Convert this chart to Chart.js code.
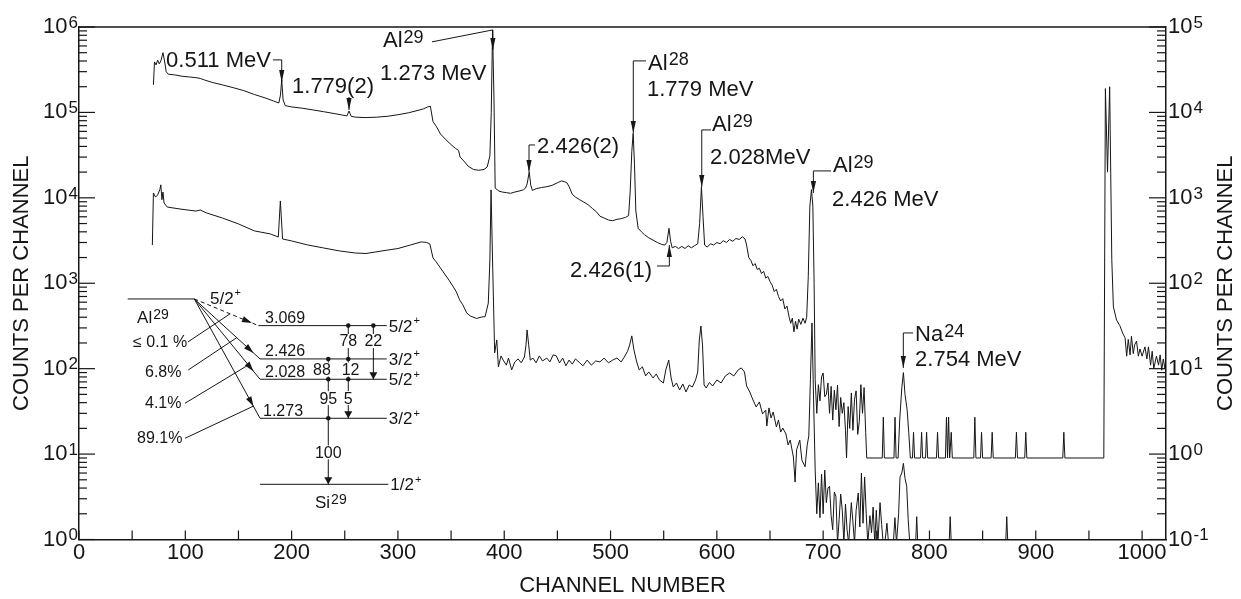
<!DOCTYPE html>
<html>
<head>
<meta charset="utf-8">
<script src="https://cdn.jsdelivr.net/npm/chart.js@4.4.1/dist/chart.umd.min.js"></script>
<style>
  body { margin: 0; background: #fff; }
</style>
</head>
<body>
<canvas id="spectrum" width="1241" height="599"></canvas>
<script>
const ink = '#161616';
const chartFont = "'Liberation Sans', Arial, Helvetica, sans-serif";

// upper spectrum, read on the right-hand axis: [channel, counts]
const upperTrace = [
  [70, 2.1e4], [71, 3.9e4], [72.5, 3.6e4], [74, 4.1e4], [75.5, 3.7e4], [77, 4.0e4], [79, 5.0e4], [80.5, 4.0e4],
  [82, 3.0e4], [84, 2.8e4], [90, 2.75e4], [97, 2.65e4], [104, 2.6e4], [110, 2.55e4], [114, 2.5e4], [118, 2.4e4],
  [125, 2.25e4], [135, 2.1e4], [145, 1.95e4], [155, 1.8e4], [165, 1.62e4], [175, 1.48e4], [183, 1.36e4], [188, 1.29e4],
  [189.5, 1.6e4], [190.7, 2.4e4], [192, 1.4e4], [194, 1.2e4], [200, 1.16e4], [210, 1.12e4], [220, 1.07e4], [230, 1.02e4],
  [240, 9.7e3], [248, 9.3e3], [252, 9.1e3], [254, 1.04e4], [256, 9.0e3], [260, 8.8e3], [270, 8.7e3], [280, 8.8e3],
  [290, 9.0e3], [300, 9.4e3], [310, 9.9e3], [318, 1.05e4], [324, 1.1e4], [328, 1.16e4], [330.5, 1.18e4], [333, 7.8e3],
  [336, 6.9e3], [340, 5.6e3], [345, 4.8e3], [350, 4.2e3], [354, 3.8e3], [357, 3.6e3], [358.5, 3.0e3], [362, 2.7e3],
  [366, 2.35e3], [371, 2.15e3], [376, 2.1e3], [381, 2.15e3], [384, 2.3e3], [386.5, 3.1e3], [387.8, 1.0e4], [389, 9.2e4],
  [390.3, 1.6e4], [391.5, 1.3e3], [395, 1.2e3], [398, 1.17e3], [402, 1.15e3], [406, 1.13e3], [410, 1.17e3], [414, 1.2e3],
  [418, 1.24e3], [420, 1.3e3], [421.5, 1.45e3], [423.5, 2.0e3], [425, 1.4e3], [426.5, 1.22e3], [430, 1.28e3], [435, 1.32e3],
  [440, 1.35e3], [445, 1.4e3], [450, 1.5e3], [454, 1.58e3], [457, 1.54e3], [459, 1.5e3], [461, 1.35e3], [464, 1.1e3],
  [467, 1.02e3], [471, 950], [475, 890], [479, 830], [483, 750], [487, 680], [490, 610], [494, 580],
  [498, 550], [502, 540], [506, 560], [510, 570], [514, 590], [517, 620], [518.5, 1.2e3], [520, 3.5e3],
  [521.3, 5.7e3], [522.5, 2.5e3], [523.8, 700], [526, 440], [529, 400], [532, 370], [536, 340], [540, 320],
  [544, 300], [548, 285], [551, 280], [553, 300], [555, 440], [556.5, 310], [558, 260], [561, 270],
  [564, 255], [567, 270], [570, 255], [573, 275], [576, 260], [579, 275], [582, 290], [583.8, 500],
  [585.5, 1.35e3], [587, 600], [588.5, 280], [591, 265], [594, 290], [597, 280], [600, 300], [603, 290],
  [606, 315], [609, 300], [612, 325], [615, 310], [618, 335], [621, 325], [624, 350], [626.5, 330],
  [628, 280], [630, 200], [632, 185], [634, 160], [636, 170], [638, 145], [640, 150], [642, 130],
  [644, 138], [646, 115], [648, 120], [650, 105], [652, 95], [654, 80], [656, 85], [658, 70],
  [660, 62], [662, 66], [664, 50], [666, 54], [668, 40], [669.5, 34], [671, 39], [672.5, 27],
  [674, 36], [675.5, 29], [677, 38], [679, 33], [681, 39], [683, 34], [684.5, 40], [686, 120],
  [687.5, 800], [689, 1.25e3], [690.3, 800], [691.5, 100], [692.5, 7.4], [694, 3.0], [695.5, 6.5], [697, 4.2],
  [698.5, 8.0], [700, 8.9], [701.5, 4.7], [703, 5.0], [704.5, 6.8], [706, 3.0], [707.5, 6.2], [709, 2.5],
  [710.5, 5.6], [712, 3.3], [713.5, 6.4], [715, 2.1], [716.5, 4.6], [718, 3.0], [719.5, 4.0], [721, 1.9],
  [722, 0.9], [723.5, 3.6], [725, 2.0], [726.5, 5.2], [728, 1.9], [729.5, 4.4], [731, 5.5], [732.5, 1.7],
  [734, 2.4], [735.5, 6.5], [737, 3.0], [738.5, 6.0], [740, 1.8], [741, 0.9],
  [755.6, 0.9], [756.6, 2.7], [757.6, 0.9], [766.6, 0.9], [767.6, 2.7], [768.6, 0.9],
  [770.5, 0.9], [772, 2.5], [774, 6.0], [775.5, 9.0], [777, 5.0], [779, 3.3], [780.5, 1.8], [782, 0.9],
  [784, 0.9], [785, 1.8], [786, 0.9], [791.6, 0.9], [792.6, 1.8], [793.6, 0.9], [796.3, 0.9], [797.3, 1.8],
  [798.3, 0.9], [806.6, 0.9], [807.6, 1.8], [808.6, 0.9], [815, 0.9], [816, 2.7], [817, 0.9], [818, 2.7],
  [819, 0.9], [820.5, 1.8], [821.5, 0.9], [841.7, 0.9], [842.7, 2.7], [843.7, 0.9], [848, 0.9], [849, 1.8],
  [850, 0.9], [858, 0.9], [859, 1.8], [860, 0.9], [880.8, 0.9], [881.8, 1.8], [882.8, 0.9], [889.6, 0.9],
  [890.6, 1.8], [891.6, 0.9], [925.4, 0.9], [926.4, 1.8], [927.4, 0.9],
  [964, 0.9], [965.5, 1.9e4], [967.5, 2.0e3], [969.5, 2.0e4], [971.5, 190], [973, 53], [976, 37], [979, 32],
  [981.8, 26], [984, 23], [985.5, 14], [987, 22], [988.7, 14.5], [990, 24], [991.7, 15], [993, 19],
  [994.8, 21], [996.5, 14], [998, 17], [1000, 14], [1002.7, 18], [1004.5, 13], [1006, 18], [1008, 11],
  [1009.5, 16], [1011, 10], [1013.5, 14], [1015.5, 11], [1017, 14.5], [1018.5, 9.6], [1020, 13], [1021.5, 10],
  [1022.5, 12]
];

// lower spectrum, read on the left-hand axis: [channel, counts]
const lowerTrace = [
  [69, 2.8e3], [70, 1.14e4], [72, 1.02e4], [74, 1.08e4], [76, 1.24e4], [77, 1.42e4], [78, 9.5e3], [79, 1.17e4],
  [80, 8.7e3], [83, 7.8e3], [95, 7.4e3], [110, 7.0e3], [114, 7.2e3], [120, 6.65e3], [135, 5.8e3], [150, 4.95e3],
  [165, 4.1e3], [180, 3.78e3], [187.5, 3.48e3], [189.4, 9.2e3], [191.5, 3.3e3], [200, 3.13e3], [215, 2.81e3], [230, 2.59e3],
  [245, 2.39e3], [260, 2.26e3], [270, 2.23e3], [285, 2.39e3], [300, 2.55e3], [312, 2.81e3], [322, 3.05e3], [327, 3.0e3],
  [330, 2.89e3], [333, 1.98e3], [336, 1.78e3], [340, 1.51e3], [344, 1.28e3], [348, 1.09e3], [352, 910], [355, 790],
  [358, 640], [361, 560], [364.7, 450], [368, 414], [374, 387], [379, 403], [382, 406], [385, 585],
  [386.5, 1.87e3], [387.6, 1.24e4], [389, 1.87e3], [391, 153], [393, 217], [394.5, 105], [397, 141], [399, 126],
  [402, 110], [404, 133], [407, 96.6], [410, 120], [413, 130], [416, 117], [419, 137], [420.5, 190],
  [421.5, 284], [423, 190], [424.5, 126], [427, 133], [430, 117], [433, 141], [436, 123], [440, 133],
  [443, 120], [446, 145], [449, 141], [452, 117], [455, 133], [458, 108], [461, 126], [464, 113],
  [467, 130], [471, 117], [474, 108], [478, 126], [482, 110], [486, 123], [490, 120], [494, 133],
  [498, 117], [502, 126], [506, 133], [510, 120], [513, 137], [516, 160], [518, 190], [520, 242],
  [522, 166], [524.6, 120], [527, 96.6], [530, 105], [533, 82.2], [536, 91.5], [540, 77.8], [543, 86.7],
  [546, 73.8], [549.7, 68], [552, 96.6], [554.7, 126], [557, 77.8], [559, 61], [562, 68], [565, 56.3],
  [568, 66.2], [571, 53.3], [574, 64.4], [577, 61], [580, 73.8], [582, 91.5], [583.5, 217], [585, 316],
  [586.5, 190], [588, 64.4], [590, 59.4], [593, 69], [596, 62.7], [600, 73.8], [604, 68], [608, 82.2],
  [612, 89.1], [616, 82.2], [620, 96.6], [623, 102], [626, 91.5], [628, 62.7], [631, 53.3], [634, 43],
  [637, 35.6], [640, 40.8], [643, 29.5], [646, 32.8], [647, 21.3], [649, 34.7], [651, 26.5], [653, 31.1],
  [656, 20.8], [658, 25.1], [660, 18.1], [662, 20.2], [665, 17.2], [667, 12.8], [669, 14.6], [672, 9.25],
  [673.6, 4.7], [675, 11.2], [678, 14.6], [680, 8.5], [683, 7.1], [685, 12.8], [686.5, 16.3], [688, 73.8],
  [689.5, 343], [691, 43], [692.5, 6.5], [694, 2.0], [695.5, 4.6], [697, 1.8], [698.5, 5.8], [700, 2.0],
  [701.5, 6.5], [703, 2.7], [704.5, 4.0], [706, 4.2], [707.5, 1.9], [709, 1.3], [710.5, 3.6], [712, 3.2],
  [713.5, 0.9], [715, 1.7], [716.5, 3.4], [718, 2.2], [719.5, 0.9], [721, 2.6], [722.5, 1.3], [724, 0.9],
  [726.5, 2.7], [728, 1.6], [729.5, 0.9], [731, 2.2], [733, 3.5], [734.5, 1.4], [736, 6.0], [737.5, 1.55],
  [739, 5.4], [740.5, 2.0], [742, 0.9], [744, 1.9], [745.5, 1.2], [747, 2.4], [748.5, 0.9], [750, 2.2],
  [751.5, 0.9], [753.5, 2.7], [755, 1.5], [756.5, 0.9], [758, 0.9], [760, 1.55], [761.5, 0.9], [766, 0.9],
  [767.5, 1.8], [769, 0.9], [771, 2.0], [772.3, 5.4], [774, 6.0], [775.5, 7.8], [777, 5.2], [778.6, 4.2],
  [780, 1.7], [781.5, 0.9], [787, 0.9], [788, 1.85], [789, 0.9], [818.5, 0.9], [819.5, 1.85], [820.5, 0.9],
  [871.7, 0.9], [872.7, 1.85], [873.7, 0.9], [900, 0.9]
];

// tick labels
const channelTicks = [0, 100, 200, 300, 400, 500, 600, 700, 800, 900, 1000];
const leftDecades = [0, 1, 2, 3, 4, 5, 6];
const rightDecades = [-1, 0, 1, 2, 3, 4, 5];

// peak labels: text lines [text, channel, log10 counts, align], leader path in (channel, log10 counts)
const peakNotes = [
  { lines: [['0.511 MeV', 180.5, 5.533, 'right']], path: [[182.5, 5.615], [190.7, 5.615], [190.7, 5.357]] },
  { lines: [['1.779(2)', 200.4, 5.228]], path: [[254, 5.181], [254, 5.029]] },
  { lines: [['Al^29', 286, 5.767], ['1.273 MeV', 283.2, 5.38]], path: [[332, 5.826], [389.3, 5.966], [389.3, 5.732]] },
  { lines: [['2.426(2)', 430.9, 4.526]], path: [[429, 4.619], [423.3, 4.619], [423.3, 4.303]] },
  { lines: [['Al^28', 535.3, 5.498], ['1.779 MeV', 534.3, 5.193]], path: [[533.4, 5.603], [521.4, 5.603], [521.4, 4.76]] },
  { lines: [['Al^29', 595.5, 4.783], ['2.028MeV', 593.6, 4.397]], path: [[594.5, 4.795], [585.8, 4.795], [585.8, 4.128]] },
  { lines: [['2.426(1)', 461.9, 3.073]], path: [[543.7, 3.202], [555.3, 3.202], [555.3, 3.448]] },
  { lines: [['Al^29', 709.3, 4.303], ['2.426 MeV', 708.4, 3.905]], path: [[707.4, 4.315], [690.8, 4.315], [690.8, 4.057]] },
  { lines: [['Na^24', 786.5, 2.324], ['2.754 MeV', 786.5, 2.032]], path: [[784.6, 2.418], [775.4, 2.418], [775.4, 2.008]] }
];

// Al29 decay scheme inset (channel, log10 counts)
const schemeParent = [45.8, 108.5, 2.816];
const schemeLevels = [
  ['3.069', '5/2^+', 2.504, 168.7],
  ['2.426', '3/2^+', 2.114, 170.3],
  ['2.028', '5/2^+', 1.876, 170.3],
  ['1.273', '3/2^+', 1.419, 170.3]
];
const schemeGround = ['1/2^+', 0.646, 170.3, 291];
const schemeBranches = [
  ['≤ 0.1 %', 50.8, 2.254, [102.5, 2.313], [142.1, 2.642]],
  ['6.8%', 62.1, 1.903, [102.8, 1.985], [148.4, 2.363]],
  ['4.1%', 62.1, 1.54, [99.7, 1.595], [159.3, 2.043]],
  ['89.1%', 54.6, 1.13, [99.7, 1.185], [164, 1.561]]
];
const schemeGammas = [
  [234.5, 2.114, 0.646, [2.114, 1.876, 1.419]],
  [253.3, 2.504, 1.419, [2.504, 2.114, 1.876]],
  [276.9, 2.504, 1.876, [2.504]]
];
const schemeIntensities = [
  ['78', 253.3, 2.324], ['22', 276.9, 2.324], ['88', 228.5, 1.99], ['12', 255.5, 1.99],
  ['95', 234.5, 1.655], ['5', 253.3, 1.655], ['100', 234.5, 1.02]
];

function richText(ctx, text, x, y, size, align, supRatio, lift) {
  const parts = text.split('^');
  const base = parts[0];
  const sup = parts[1] || '';
  const supSize = Math.round(size * (supRatio || 0.8));
  ctx.font = size + 'px ' + chartFont;
  const wBase = ctx.measureText(base).width;
  ctx.font = supSize + 'px ' + chartFont;
  const wSup = sup ? ctx.measureText(sup).width + 1 : 0;
  let left = x;
  if (align === 'right') left = x - wBase - wSup;
  if (align === 'center') left = x - (wBase + wSup) / 2;
  ctx.textAlign = 'left';
  ctx.textBaseline = 'alphabetic';
  ctx.font = size + 'px ' + chartFont;
  ctx.fillText(base, left, y);
  if (sup) {
    ctx.font = supSize + 'px ' + chartFont;
    ctx.fillText(sup, left + wBase + 1, y - size * (lift || 0.22));
  }
}

function arrowHead(ctx, from, tip, len, half) {
  const a = Math.atan2(tip[1] - from[1], tip[0] - from[0]);
  const bx = tip[0] - len * Math.cos(a);
  const by = tip[1] - len * Math.sin(a);
  ctx.beginPath();
  ctx.moveTo(tip[0], tip[1]);
  ctx.lineTo(bx + half * Math.sin(a), by - half * Math.cos(a));
  ctx.lineTo(bx - half * Math.sin(a), by + half * Math.cos(a));
  ctx.closePath();
  ctx.fill();
}

function segment(ctx, p, q) {
  ctx.beginPath();
  ctx.moveTo(p[0], p[1]);
  ctx.lineTo(q[0], q[1]);
  ctx.stroke();
}

const overlay = {
  id: 'overlay',
  afterDraw(chart) {
    const { ctx, chartArea: area, scales } = chart;
    const x = scales.x, y = scales.y, y2 = scales.y2;
    const at = (ch, dec) => [x.getPixelForValue(ch), y.getPixelForValue(Math.pow(10, dec))];
    ctx.save();
    ctx.strokeStyle = ink;
    ctx.fillStyle = ink;

    // top frame line
    ctx.lineWidth = 1.5;
    segment(ctx, [area.left, area.top], [area.right, area.top]);

    // inward tick marks
    ctx.lineWidth = 1.2;
    for (let v = 0; v <= 1000; v += 50) {
      const px = x.getPixelForValue(v);
      segment(ctx, [px, area.bottom], [px, area.bottom - 9]);
    }
    for (let k = leftDecades[0]; k <= leftDecades[leftDecades.length - 1]; k++) {
      for (let m = 1; m <= 9; m++) {
        if (k === leftDecades[leftDecades.length - 1] && m > 1) break;
        const py = y.getPixelForValue(m * Math.pow(10, k));
        segment(ctx, [area.left, py], [area.left + (m === 1 ? 16 : 8), py]);
      }
    }
    for (let k = rightDecades[0]; k <= rightDecades[rightDecades.length - 1]; k++) {
      for (let m = 1; m <= 9; m++) {
        if (k === rightDecades[rightDecades.length - 1] && m > 1) break;
        const py = y2.getPixelForValue(m * Math.pow(10, k));
        segment(ctx, [area.right, py], [area.right - (m === 1 ? 17 : 9), py]);
      }
    }

    // channel labels
    ctx.font = '22px ' + chartFont;
    ctx.textAlign = 'center';
    ctx.textBaseline = 'middle';
    channelTicks.forEach(v => {
      ctx.fillText(String(v), x.getPixelForValue(v), area.bottom + 13);
    });

    // decade labels with superscripts
    leftDecades.forEach(k => {
      const py = y.getPixelForValue(Math.pow(10, k));
      richText(ctx, '10^' + k, area.left - 1, py + 6, 22, 'right', 0.78, 0.24);
    });
    rightDecades.forEach(k => {
      const py = y2.getPixelForValue(Math.pow(10, k));
      richText(ctx, '10^' + k, area.right + 2, py + 6, 22, 'left', 0.78, 0.24);
    });

    // right axis title, reading upwards like the left one
    ctx.save();
    ctx.translate(area.right + 60, (area.top + area.bottom) / 2);
    ctx.rotate(-Math.PI / 2);
    ctx.font = '22px ' + chartFont;
    ctx.textAlign = 'center';
    ctx.textBaseline = 'middle';
    ctx.fillText('COUNTS PER CHANNEL', 0, 0);
    ctx.restore();

    // peak annotations
    ctx.lineWidth = 1;
    peakNotes.forEach(note => {
      note.lines.forEach(([text, ch, dec, align]) => {
        const p = at(ch, dec);
        richText(ctx, text, p[0], p[1], 22, align || 'left', 0.8, 0.2);
      });
      const pts = note.path.map(([ch, dec]) => at(ch, dec));
      ctx.beginPath();
      ctx.moveTo(pts[0][0], pts[0][1]);
      pts.slice(1).forEach(p => ctx.lineTo(p[0], p[1]));
      ctx.stroke();
      arrowHead(ctx, pts[pts.length - 2], pts[pts.length - 1], 12, 2.6);
    });

    // decay scheme
    ctx.lineWidth = 1;
    const parentL = at(schemeParent[0], schemeParent[2]);
    const parentR = at(schemeParent[1], schemeParent[2]);
    segment(ctx, parentL, parentR);
    richText(ctx, '5/2^+', at(123.2, 2.758)[0], at(123.2, 2.758)[1], 17, 'left', 0.65, 0.45);
    richText(ctx, 'Al^29', at(54.6, 2.535)[0], at(54.6, 2.535)[1], 17, 'left', 0.8, 0.25);

    schemeLevels.forEach(([energy, spin, dec, start], i) => {
      const a = at(start, dec);
      const b = at(289.5, dec);
      segment(ctx, a, b);
      const lab = at(i === 3 ? 173.1 : 175, dec + 0.031);
      richText(ctx, energy, lab[0], lab[1], 16, 'left');
      richText(ctx, spin, b[0] + 2, b[1] + 6, 17, 'left', 0.65, 0.45);
      // feeding arrow from the parent level
      const tip = [parentR[0] + (a[0] - parentR[0]) * 0.9, parentR[1] + (a[1] - parentR[1]) * 0.9];
      if (i === 0) ctx.setLineDash([4, 3]);
      segment(ctx, parentR, a);
      ctx.setLineDash([]);
      arrowHead(ctx, parentR, tip, 10, 3);
    });
    const g1 = at(schemeGround[2], schemeGround[1]);
    const g2 = at(schemeGround[3], schemeGround[1]);
    segment(ctx, g1, g2);
    richText(ctx, schemeGround[0], g2[0] + 2, g2[1] + 6, 17, 'left', 0.65, 0.45);
    const si = at(222, 0.369);
    richText(ctx, 'Si^29', si[0], si[1], 17, 'left', 0.8, 0.25);

    schemeBranches.forEach(([text, ch, dec, from, to]) => {
      const p = at(ch, dec);
      richText(ctx, text, p[0], p[1], 16, 'left');
      segment(ctx, at(from[0], from[1]), at(to[0], to[1]));
    });

    schemeGammas.forEach(([ch, fromDec, toDec, dots]) => {
      const top = at(ch, fromDec);
      const end = at(ch, toDec);
      segment(ctx, top, end);
      arrowHead(ctx, top, end, 7, 4);
      dots.forEach(d => {
        const p = at(ch, d);
        ctx.beginPath();
        ctx.arc(p[0], p[1], 2.3, 0, Math.PI * 2);
        ctx.fill();
      });
    });

    ctx.font = '16px ' + chartFont;
    ctx.textAlign = 'center';
    ctx.textBaseline = 'middle';
    schemeIntensities.forEach(([text, ch, dec]) => {
      const p = at(ch, dec);
      const w = ctx.measureText(text).width + 4;
      ctx.fillStyle = '#fff';
      ctx.fillRect(p[0] - w / 2, p[1] - 7, w, 14);
      ctx.fillStyle = ink;
      ctx.fillText(text, p[0], p[1] + 1);
    });

    ctx.restore();
  }
};

const ctx = document.getElementById('spectrum').getContext('2d');

new Chart(ctx, {
  type: 'scatter',
  data: {
    datasets: [
      {
        data: upperTrace.map(([ch, c]) => ({ x: ch, y: c })),
        yAxisID: 'y2',
        showLine: true,
        borderColor: ink,
        borderWidth: 1,
        pointRadius: 0
      },
      {
        data: lowerTrace.map(([ch, c]) => ({ x: ch, y: c })),
        yAxisID: 'y',
        showLine: true,
        borderColor: ink,
        borderWidth: 1,
        pointRadius: 0
      }
    ]
  },
  options: {
    responsive: false,
    animation: false,
    devicePixelRatio: 1,
    events: [],
    layout: { padding: { top: 27, left: 0, right: 0, bottom: 0 } },
    plugins: { legend: { display: false }, tooltip: { enabled: false } },
    scales: {
      x: {
        type: 'linear',
        min: 0,
        max: 1022.5,
        grid: { display: false, drawTicks: false },
        border: { display: true, color: ink, width: 1.5 },
        ticks: { display: false, stepSize: 50, autoSkip: false },
        title: {
          display: true,
          text: 'CHANNEL NUMBER',
          color: ink,
          font: { family: chartFont, size: 22 },
          padding: { top: 0, bottom: 0 }
        },
        afterFit: s => { s.height = 59.5; }
      },
      y: {
        type: 'logarithmic',
        position: 'left',
        min: 1,
        max: 1e6,
        grid: { display: false, drawTicks: false },
        border: { display: true, color: ink, width: 1.5 },
        ticks: { display: false, autoSkip: false },
        title: {
          display: true,
          text: 'COUNTS PER CHANNEL',
          color: ink,
          font: { family: chartFont, size: 22 },
          padding: { top: 9, bottom: 0 }
        },
        afterFit: s => { s.width = 79; }
      },
      y2: {
        type: 'logarithmic',
        position: 'right',
        min: 0.1,
        max: 1e5,
        grid: { display: false, drawTicks: false },
        border: { display: true, color: ink, width: 1.5 },
        ticks: { display: false, autoSkip: false },
        afterFit: s => { s.width = 75; }
      }
    }
  },
  plugins: [overlay]
});
</script>
</body>
</html>
